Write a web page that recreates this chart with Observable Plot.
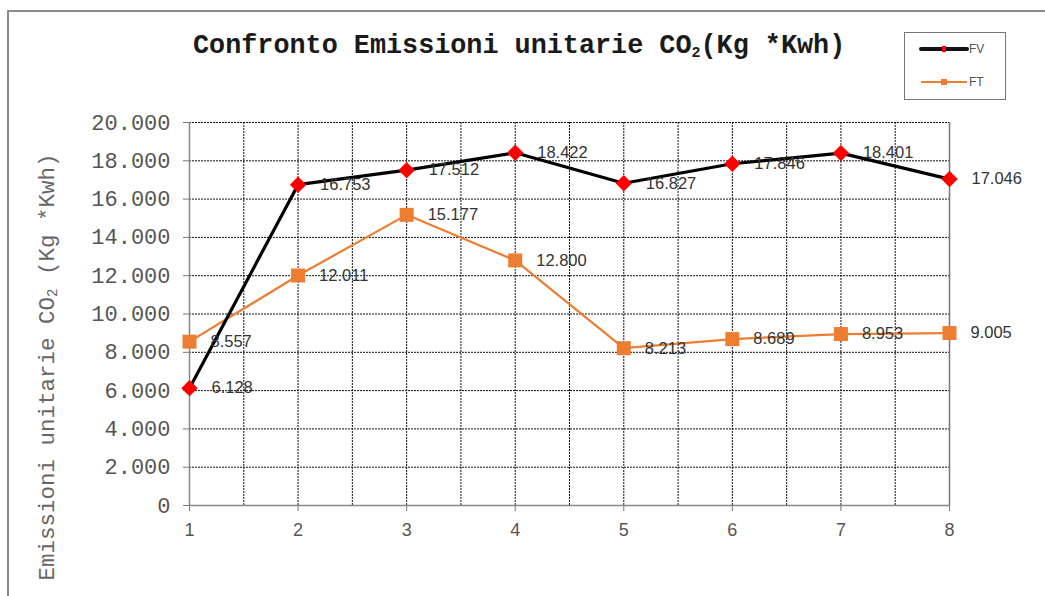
<!DOCTYPE html>
<html><head><meta charset="utf-8">
<script src="https://cdn.jsdelivr.net/npm/d3@7"></script>
<script src="https://cdn.jsdelivr.net/npm/@observablehq/plot@0.6"></script>
<style>
body{margin:0;background:#fff;}
#wrap{position:relative;width:1045px;height:596px;overflow:hidden;font-family:"Liberation Sans",Arial,sans-serif;background:#fff;}
#frame{position:absolute;left:7px;top:10px;width:1100px;height:700px;border-left:2px solid #8a8a8a;border-top:2px solid #8a8a8a;}
#chart{position:absolute;left:0;top:0;}
#title{position:absolute;left:193px;top:31px;font-family:"Liberation Mono",monospace;font-weight:bold;font-size:26.8px;color:#1a1a1a;white-space:nowrap;}
#title sub{font-size:15px;vertical-align:-4px;}
#ylabel{position:absolute;left:48px;top:367px;transform:translate(-50%,-50%) rotate(-90deg);font-family:"Liberation Mono",monospace;font-size:22.5px;color:#666;white-space:nowrap;}
#ylabel sub{font-size:14px;vertical-align:-3px;}
#legend{position:absolute;left:904px;top:32px;width:100px;height:66px;border:1.5px solid #777;background:#fff;}
#legend .row{position:absolute;left:14px;display:flex;align-items:center;font-size:12px;color:#555;}
</style></head>
<body>
<div id="wrap">
  <div id="frame"></div>
  <div id="chart"></div>
  <div id="title">Confronto Emissioni unitarie CO<sub>2</sub>(Kg *Kwh)</div>
  <div id="ylabel">Emissioni unitarie CO<sub>2</sub> (Kg *Kwh)</div>
  <div id="legend">
    <div class="row" style="top:8px"><svg width="50" height="16"><line x1="2" x2="48" y1="8" y2="8" stroke="#111" stroke-width="4" stroke-linecap="round"/><rect x="23" y="5" width="4" height="6" fill="#f00"/></svg><span>FV</span></div>
    <div class="row" style="top:41px"><svg width="50" height="16"><line x1="2" x2="48" y1="8" y2="8" stroke="#ED7D31" stroke-width="2"/><rect x="22" y="5" width="6" height="6" fill="#ED7D31"/></svg><span>FT</span></div>
  </div>
</div>
<script>
const categories = [1, 2, 3, 4, 5, 6, 7, 8];
const fvValues = [6128, 16753, 17512, 18422, 16827, 17846, 18401, 17046];
const ftValues = [8557, 12011, 15177, 12800, 8213, 8689, 8953, 9005];
const yTicks = [0, 2000, 4000, 6000, 8000, 10000, 12000, 14000, 16000, 18000, 20000];
const xTicks = [1, 2, 3, 4, 5, 6, 7, 8];
const xGrid = [1, 1.5, 2, 2.5, 3, 3.5, 4, 4.5, 5, 5.5, 6, 6.5, 7, 7.5, 8];

const fmt = v => v === 0 ? "0" : d3.format(",")(v).replace(/,/g, ".");
const fv = categories.map((c, i) => ({x: c, y: fvValues[i]}));
const ft = categories.map((c, i) => ({x: c, y: ftValues[i]}));

const chart = Plot.plot({
  width: 1045,
  height: 596,
  marginLeft: 189,
  marginRight: 96,
  marginTop: 122,
  marginBottom: 91,
  style: {background: "transparent", color: "#555", fontFamily: "Liberation Sans, Arial, sans-serif"},
  x: {type: "linear", domain: [1, 8]},
  y: {domain: [0, 20000]},
  marks: [
    Plot.gridY(yTicks, {stroke: "#111", strokeOpacity: 1, strokeDasharray: "2,1", strokeWidth: 1}),
    Plot.gridX(xGrid, {stroke: "#111", strokeOpacity: 1, strokeDasharray: "2,1", strokeWidth: 1}),
    Plot.ruleX([8], {stroke: "#777", strokeWidth: 1.5}),
    Plot.axisY(yTicks, {tickFormat: fmt, tickSize: 6, tickPadding: 13, fontSize: 22, fontFamily: "Liberation Mono, monospace", stroke: "#777", fill: "#555", label: null}),
    Plot.axisX(xTicks, {tickFormat: d => String(d), tickSize: 6, tickPadding: 12, fontSize: 18, stroke: "#777", fill: "#555", label: null}),
    Plot.ruleX([1], {stroke: "#888", strokeWidth: 1.5}),
    Plot.ruleY([0], {stroke: "#888", strokeWidth: 1.5}),
    Plot.line(ft, {x: "x", y: "y", stroke: "#ED7D31", strokeWidth: 2.2}),
    Plot.line(fv, {x: "x", y: "y", stroke: "#000", strokeWidth: 3.2}),
    Plot.dot(ft, {x: "x", y: "y", symbol: "square", r: 7.9, fill: "#ED7D31", stroke: "none"}),
    Plot.dot(fv, {x: "x", y: "y", symbol: "diamond2", r: 7.4, fill: "#ff0000", stroke: "none"}),
    Plot.text(ft, {x: "x", y: "y", text: d => fmt(d.y), dx: 21, textAnchor: "start", fontSize: 16.5, fill: "#333", fontFamily: "Liberation Sans, Arial, sans-serif"}),
    Plot.text(fv, {x: "x", y: "y", text: d => fmt(d.y), dx: 22, textAnchor: "start", fontSize: 16.5, fill: "#333", fontFamily: "Liberation Sans, Arial, sans-serif"})
  ]
});
document.getElementById("chart").appendChild(chart);
</script>
</body></html>
